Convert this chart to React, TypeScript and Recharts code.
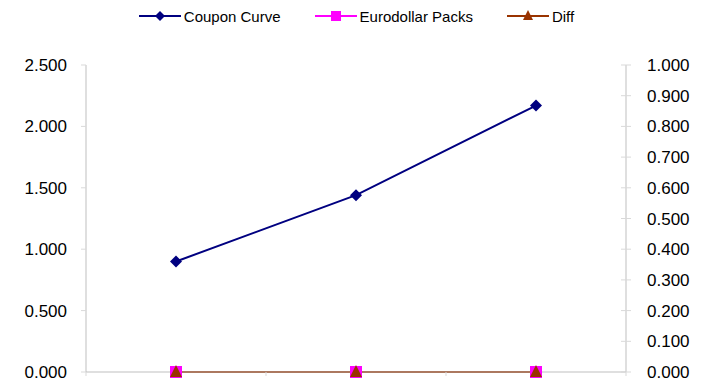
import { LineChart, Line, XAxis, YAxis, Legend } from 'recharts';

// three unlabeled buckets along the bottom
const categories = ['1', '2', '3'];
const couponCurve = [0.9, 1.44, 2.17];
const eurodollarPacks = [0, 0, 0];
const diff = [0, 0, 0];

const leftTicks = [0, 0.5, 1, 1.5, 2, 2.5];
const rightTicks = [0, 0.1, 0.2, 0.3, 0.4, 0.5, 0.6, 0.7, 0.8, 0.9, 1];
const bandEdges = [-0.5, 0.5, 1.5, 2.5];

const NAVY = '#000080';
const MAGENTA = '#FF00FF';
const BROWN = '#993300';
const AXIS = '#BFBFBF';
const TICK = '#D9D9D9';
const FONT = '"Liberation Sans", Arial, sans-serif';

const data = categories.map((c, i) => ({
  idx: i,
  name: c,
  coupon: couponCurve[i],
  euro: eurodollarPacks[i],
  diff: diff[i],
}));

const Diamond = ({ cx, cy, r = 6, fill }: any) => (
  <polygon points={`${cx},${cy - r} ${cx + r},${cy} ${cx},${cy + r} ${cx - r},${cy}`} fill={fill} />
);
const Square = ({ cx, cy, r = 6, fill }: any) => (
  <rect x={cx - r} y={cy - r} width={r * 2} height={r * 2} fill={fill} />
);
const Triangle = ({ cx, cy, r = 6, fill }: any) => (
  <polygon points={`${cx},${cy - r} ${cx + r},${cy + r} ${cx - r},${cy + r}`} fill={fill} />
);

const legendItems = [
  { label: 'Coupon Curve', color: NAVY, Mark: Diamond, r: 5 },
  { label: 'Eurodollar Packs', color: MAGENTA, Mark: Square, r: 5 },
  { label: 'Diff', color: BROWN, Mark: Triangle, r: 5 },
];

function ChartLegend() {
  return (
    <div
      style={{
        display: 'flex',
        justifyContent: 'center',
        alignItems: 'center',
        height: 30,
        fontFamily: FONT,
        fontSize: 15,
        color: '#000',
        gap: 34,
        paddingLeft: 8,
      }}
    >
      {legendItems.map(({ label, color, Mark, r }) => (
        <div key={label} style={{ display: 'flex', alignItems: 'center', gap: 3 }}>
          <svg width={42} height={14}>
            <line x1={0} y1={7} x2={42} y2={7} stroke={color} strokeWidth={2} />
            <Mark cx={21} cy={label === 'Diff' ? 6 : 7} r={r} fill={color} />
          </svg>
          <span>{label}</span>
        </div>
      ))}
    </div>
  );
}

export default function App() {
  const tickStyle = { fontSize: 17, fontFamily: FONT, fill: '#000' };
  return (
    <div style={{ position: 'absolute', left: 0, top: 0, background: '#fff' }}>
      <LineChart width={705} height={383} data={data} margin={{ top: 35, right: 0, bottom: 0, left: 0 }}>
        <Legend
          verticalAlign="top"
          align="center"
          wrapperStyle={{ top: 1 }}
          content={() => <ChartLegend />}
        />
        <XAxis
          dataKey="idx"
          type="number"
          domain={[-0.5, 2.5]}
          ticks={bandEdges}
          tickFormatter={() => ''}
          height={11}
          tickSize={4}
          tickLine={{ stroke: TICK }}
          axisLine={{ stroke: AXIS }}
        />
        <YAxis
          yAxisId="left"
          orientation="left"
          width={86}
          domain={[0, 2.5]}
          ticks={leftTicks}
          tickFormatter={(v: number) => v.toFixed(3)}
          tick={tickStyle}
          tickSize={5}
          tickMargin={14}
          tickLine={{ stroke: TICK }}
          axisLine={{ stroke: AXIS }}
          interval={0}
        />
        <YAxis
          yAxisId="right"
          orientation="right"
          width={79}
          domain={[0, 1]}
          ticks={rightTicks}
          tickFormatter={(v: number) => v.toFixed(3)}
          tick={tickStyle}
          tickSize={10}
          tickMargin={11}
          tickLine={{ stroke: TICK, transform: 'translate(-5,0)' }}
          axisLine={{ stroke: AXIS }}
          interval={0}
        />
        <Line
          yAxisId="left"
          dataKey="coupon"
          name="Coupon Curve"
          stroke={NAVY}
          strokeWidth={2}
          dot={(p: any) => <Diamond key={`c${p.index}`} cx={p.cx} cy={p.cy} r={6} fill={NAVY} />}
          isAnimationActive={false}
        />
        <Line
          yAxisId="left"
          dataKey="euro"
          name="Eurodollar Packs"
          stroke={MAGENTA}
          strokeWidth={2}
          dot={(p: any) => <Square key={`e${p.index}`} cx={p.cx} cy={p.cy} r={6} fill={MAGENTA} />}
          isAnimationActive={false}
        />
        <Line
          yAxisId="right"
          dataKey="diff"
          name="Diff"
          stroke={BROWN}
          strokeWidth={2}
          dot={(p: any) => <Triangle key={`d${p.index}`} cx={p.cx} cy={p.cy - 1} r={6} fill={BROWN} />}
          isAnimationActive={false}
        />
      </LineChart>
    </div>
  );
}
